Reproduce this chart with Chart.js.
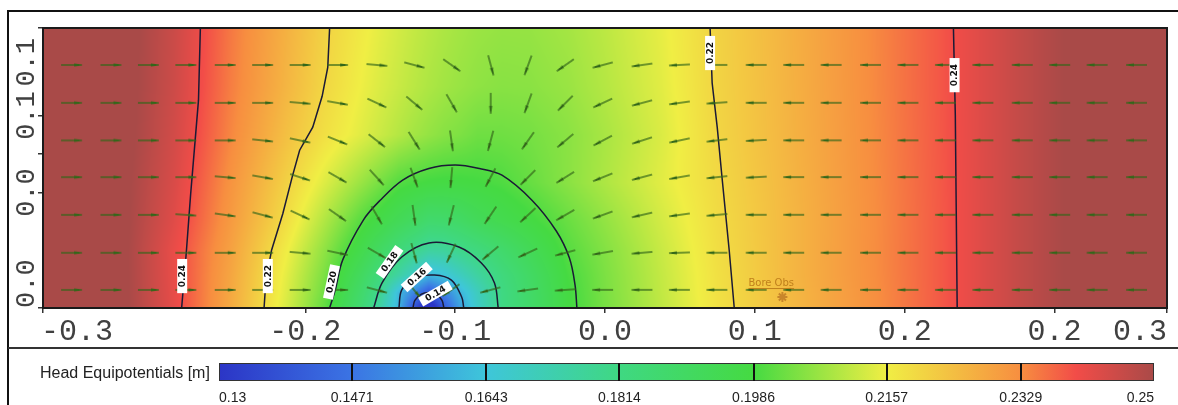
<!DOCTYPE html>
<html>
<head>
<meta charset="utf-8">
<title>Head Equipotentials</title>
<script src="https://cdn.jsdelivr.net/npm/chart.js@4.4.1/dist/chart.umd.min.js"></script>
<style>
  html, body { margin: 0; padding: 0; background: #ffffff; }
  canvas { display: block; }
</style>
</head>
<body>
<canvas id="chart" width="1178" height="405"></canvas>
<script>
// ---------- axes ----------
const xTickValues = [-0.3, -0.16, -0.08, 0, 0.08, 0.16, 0.24, 0.3];
const xTickLabels = ['-0.3', '-0.2', '-0.1', '0.0', '0.1', '0.2', '0.2', '0.3'];
const yTickValues = [0, 0.06, 0.08, 0.1, 0.1455];
const yTickLabels = ['0.0', '0.0', '', '0.1', '0.1'];

// ---------- hydraulic head grid [m] ----------
const gridX = [-0.30, -0.26, -0.23, -0.20, -0.17, -0.15, -0.13, -0.12, -0.11, -0.102, -0.094, -0.086, -0.078,
               -0.068, -0.055, -0.04, -0.02, 0.0, 0.03, 0.06, 0.10, 0.14, 0.18, 0.22, 0.26, 0.30];
const gridY = [0, 0.008, 0.017, 0.03, 0.045, 0.065, 0.09, 0.115, 0.1455];
const head_y000 = [0.260,0.252,0.2417,0.228,0.2131,0.2017,0.1855,0.1748,0.160,0.139,0.120,0.140,0.155,0.168,0.181,0.188,0.198,0.2036,0.2107,0.2179,0.2252,0.2319,0.2387,0.2462,0.2523,0.257];
const head_y008 = [0.260,0.252,0.2415,0.2284,0.2138,0.203,0.1877,0.1783,0.1617,0.1507,0.140,0.150,0.160,0.170,0.1814,0.1886,0.1982,0.2039,0.211,0.2181,0.2254,0.232,0.2387,0.2462,0.2523,0.257];
const head_y017 = [0.260,0.252,0.2413,0.2288,0.2145,0.2042,0.1908,0.1831,0.175,0.1683,0.1608,0.1639,0.169,0.1755,0.1828,0.1896,0.1988,0.2041,0.2112,0.2182,0.2257,0.2322,0.2387,0.2462,0.2523,0.257];
const head_y030 = [0.260,0.252,0.2412,0.2296,0.216,0.2062,0.1957,0.1899,0.184,0.1798,0.176,0.1765,0.1795,0.1826,0.1874,0.193,0.2003,0.2048,0.2117,0.2186,0.2257,0.2323,0.2387,0.2462,0.2523,0.257];
const head_y045 = [0.260,0.252,0.2425,0.2308,0.2186,0.2094,0.2002,0.1965,0.1929,0.1902,0.187,0.1875,0.189,0.1923,0.195,0.1979,0.2021,0.2063,0.2127,0.219,0.2257,0.2322,0.2387,0.2462,0.2523,0.257];
const head_y065 = [0.260,0.252,0.2435,0.232,0.2209,0.2139,0.207,0.2035,0.2001,0.199,0.1983,0.198,0.198,0.1985,0.1996,0.2019,0.2054,0.209,0.2142,0.2195,0.226,0.2324,0.2388,0.2462,0.2523,0.257];
const head_y090 = [0.260,0.2525,0.2445,0.2338,0.224,0.2184,0.2141,0.2119,0.2097,0.208,0.2065,0.2052,0.2043,0.2028,0.2028,0.2035,0.2055,0.2085,0.2135,0.2201,0.2264,0.2326,0.2389,0.2462,0.2523,0.257];
const head_y115 = [0.260,0.2527,0.2452,0.2348,0.2259,0.220,0.2155,0.2135,0.2117,0.2103,0.209,0.2079,0.207,0.206,0.2053,0.2055,0.207,0.2097,0.2142,0.2204,0.2266,0.2328,0.239,0.2462,0.2523,0.257];
const head_y146 = [0.260,0.2528,0.2455,0.2354,0.2267,0.2209,0.2165,0.2145,0.2127,0.2113,0.2101,0.209,0.2081,0.2072,0.2066,0.2067,0.2081,0.2105,0.2148,0.2206,0.2268,0.2329,0.239,0.2462,0.2523,0.257];
const headRows = [head_y000, head_y008, head_y017, head_y030, head_y045, head_y065, head_y090, head_y115, head_y146];

// ---------- equipotential lines [x, y] ----------
const contourLevels = [0.24, 0.22, 0.20, 0.18, 0.16, 0.14, 0.22, 0.24];
const line024West = [[-0.226,0],[-0.2235,0.029],[-0.2212,0.059],[-0.2188,0.087],[-0.217,0.108],[-0.216,0.1455]];
const line022West = [[-0.182,0],[-0.181,0.0145],[-0.178,0.030],[-0.172,0.049],[-0.167,0.068],[-0.163,0.082],[-0.156,0.094],[-0.151,0.110],[-0.148,0.125],[-0.147,0.1455]];
const line020 = [[-0.147,0],[-0.144,0.0094],[-0.140,0.025],[-0.129,0.0457],[-0.120,0.056],[-0.108,0.0665],[-0.094,0.0725],[-0.080,0.0743],[-0.067,0.0725],[-0.055,0.069],[-0.039,0.056],[-0.026,0.040],[-0.019,0.026],[-0.016,0.012],[-0.015,0]];
const line018 = [[-0.1235,0],[-0.119,0.013],[-0.1085,0.0265],[-0.094,0.0338],[-0.078,0.0317],[-0.066,0.0234],[-0.059,0.013],[-0.057,0]];
const line016 = [[-0.110,0],[-0.1085,0.0094],[-0.1016,0.0156],[-0.091,0.0171],[-0.082,0.0145],[-0.0765,0.0057],[-0.0754,0]];
const line014 = [[-0.1025,0],[-0.1015,0.004],[-0.098,0.0072],[-0.094,0.008],[-0.090,0.0072],[-0.087,0.004],[-0.086,0]];
const line022East = [[0.069,0],[0.0663,0.030],[0.0626,0.0665],[0.0599,0.094],[0.0572,0.1169],[0.0561,0.1455]];
const line024East = [[0.188,0],[0.1875,0.05],[0.187,0.10],[0.186,0.1455]];
const contourLines = [line024West, line022West, line020, line018, line016, line014, line022East, line024East];

// contour tags: level, position
const tagLevels = [0.24, 0.22, 0.20, 0.18, 0.16, 0.14, 0.22, 0.24];
const tagX = [-0.2257, -0.180, -0.146, -0.115, -0.1005, -0.0905, 0.0561, 0.1866];
const tagY = [0.0166, 0.0166, 0.0135, 0.024, 0.0161, 0.0075, 0.1325, 0.121];

// ---------- Darcy flux directions (degrees, 0 = +x, counter-clockwise) ----------
const arrowCols = [-0.285,-0.264,-0.244,-0.224,-0.203,-0.183,-0.163,-0.143,-0.122,-0.102,-0.082,-0.061,-0.041,-0.021,
                   -0.001,0.020,0.040,0.060,0.081,0.101,0.121,0.142,0.162,0.182,0.202,0.223,0.243,0.263,0.284];
const arrowRows = [0.0094, 0.0287, 0.0484, 0.0680, 0.0871, 0.1066, 0.1263];
const flowDir_r0 = [0,0,0,0,0,0,0,0,-15,-50,-145,-165,-172,-176,180,180,180,180,180,180,180,180,180,180,180,180,180,180,180];
const flowDir_r1 = [0,0,0,0,0,0,-5,-12,-30,-75,-115,-140,-155,-165,-170,-175,-178,180,180,180,180,180,180,180,180,180,180,180,180];
const flowDir_r2 = [0,0,0,-4,-8,-15,-25,-35,-60,-82,-104,-124,-137,-150,-160,-167,-172,-175,180,180,180,180,180,180,180,180,180,180,180];
const flowDir_r3 = [0,0,0,0,-5,-10,-18,-30,-48,-70,-95,-118,-135,-148,-158,-165,-170,-174,-177,180,180,180,180,180,180,180,180,180,180];
const flowDir_r4 = [0,0,0,0,0,-6,-12,-22,-38,-58,-82,-105,-125,-140,-152,-162,-168,-173,-177,180,180,180,180,180,180,180,180,180,180];
const flowDir_r5 = [0,0,0,0,0,0,-5,-10,-25,-40,-60,-90,-110,-135,-155,-165,-172,-176,180,180,180,180,180,180,180,180,180,180,180];
const flowDir_r6 = [0,0,0,0,0,0,0,0,-5,-15,-35,-75,-110,-145,-165,-172,-177,180,180,180,180,180,180,180,180,180,180,180,180];
const flowDirRows = [flowDir_r0, flowDir_r1, flowDir_r2, flowDir_r3, flowDir_r4, flowDir_r5, flowDir_r6];

// observation point
const obsName = ['Bore Obs'];
const obsX = [0.0947];
const obsY = [0.0057];

// ---------- legend ----------
const legendTitle = 'Head Equipotentials [m]';
const legendValues = [0.13, 0.1471, 0.1643, 0.1814, 0.1986, 0.2157, 0.2329, 0.25];
const legendLabels = ['0.13', '0.1471', '0.1643', '0.1814', '0.1986', '0.2157', '0.2329', '0.25'];

// ---------- palette ----------
const paletteValues = [0.13, 0.1471, 0.1643, 0.1814, 0.1986, 0.2157, 0.2329, 0.24, 0.25];
const paletteColors = ['#2b35c6', '#3b74e4', '#3ec6da', '#3fd882', '#45da42', '#f0ee44', '#f78e40', '#f24c48', '#a94a48'];

// ======================================================================
function hexRgb(h) { return [parseInt(h.slice(1, 3), 16), parseInt(h.slice(3, 5), 16), parseInt(h.slice(5, 7), 16)]; }
const paletteRgb = paletteColors.map(hexRgb);
function colourFor(v) {
  const n = paletteValues.length;
  if (v <= paletteValues[0]) return paletteRgb[0];
  if (v >= paletteValues[n - 1]) return paletteRgb[n - 1];
  let i = 0;
  while (v > paletteValues[i + 1]) i++;
  const t = (v - paletteValues[i]) / (paletteValues[i + 1] - paletteValues[i]);
  const a = paletteRgb[i], b = paletteRgb[i + 1];
  return [a[0] + (b[0] - a[0]) * t, a[1] + (b[1] - a[1]) * t, a[2] + (b[2] - a[2]) * t];
}
function bracket(arr, v) {
  let i = 0;
  while (i < arr.length - 2 && v > arr[i + 1]) i++;
  const t = Math.min(1, Math.max(0, (v - arr[i]) / (arr[i + 1] - arr[i])));
  return [i, t];
}

// filled head field, drawn under the datasets
const headField = {
  id: 'headField',
  beforeDatasetsDraw(chart) {
    const { ctx, chartArea: a, scales: { x, y } } = chart;
    const w = Math.round(a.right - a.left), h = Math.round(a.bottom - a.top);
    const off = document.createElement('canvas');
    off.width = w; off.height = h;
    const octx = off.getContext('2d');
    const img = octx.createImageData(w, h);
    const cols = [];
    for (let px = 0; px < w; px++) cols.push(bracket(gridX, x.getValueForPixel(a.left + px + 0.5)));
    for (let py = 0; py < h; py++) {
      const [j, ty] = bracket(gridY, y.getValueForPixel(a.top + py + 0.5));
      const r0 = headRows[j], r1 = headRows[j + 1];
      for (let px = 0; px < w; px++) {
        const [i, tx] = cols[px];
        const v = (r0[i] * (1 - tx) + r0[i + 1] * tx) * (1 - ty) + (r1[i] * (1 - tx) + r1[i + 1] * tx) * ty;
        const c = colourFor(v);
        const o = (py * w + px) * 4;
        img.data[o] = c[0]; img.data[o + 1] = c[1]; img.data[o + 2] = c[2]; img.data[o + 3] = 255;
      }
    }
    octx.putImageData(img, 0, 0);
    ctx.drawImage(off, a.left, a.top);
  }
};

// tags, frame, axis labels and colour legend
const overlay = {
  id: 'overlay',
  afterDatasetsDraw(chart) {
    const { ctx, chartArea: a, scales: { x, y } } = chart;
    // contour tags
    ctx.save();
    ctx.beginPath(); ctx.rect(a.left, a.top, a.right - a.left, a.bottom - a.top); ctx.clip();
    const tagAngles = [-90, -90, -78, -55, -42, -30, -90, -90];
    tagLevels.forEach((lv, k) => {
      const px = x.getPixelForValue(tagX[k]), py = y.getPixelForValue(tagY[k]);
      const txt = lv.toFixed(2);
      ctx.save();
      ctx.translate(px, py);
      ctx.rotate(tagAngles[k] * Math.PI / 180);
      ctx.font = 'bold 9px "DejaVu Sans"';
      const tw = ctx.measureText(txt).width;
      ctx.fillStyle = '#ffffff';
      ctx.fillRect(-tw / 2 - 6, -5, tw + 12, 10);
      ctx.fillStyle = '#101010';
      ctx.textAlign = 'center'; ctx.textBaseline = 'middle';
      ctx.fillText(txt, 0, 0.5);
      ctx.restore();
    });
    // observation point label
    obsName.forEach((nm, k) => {
      const px = x.getPixelForValue(obsX[k]), py = y.getPixelForValue(obsY[k]);
      ctx.font = '10px "DejaVu Sans"';
      ctx.fillStyle = '#c0801c';
      ctx.textAlign = 'left'; ctx.textBaseline = 'alphabetic';
      const tw = ctx.measureText(nm).width;
      ctx.fillText(nm, px - 34, py - 11);
      ctx.fillRect(px - 34, py - 9, tw, 1);
    });
    ctx.restore();
    // plot frame
    ctx.save();
    ctx.strokeStyle = '#1a1a1a'; ctx.lineWidth = 2;
    ctx.strokeRect(a.left, a.top, a.right - a.left, a.bottom - a.top);
    ctx.restore();
  },
  afterDraw(chart) {
    const { ctx, chartArea: a, scales: { x, y } } = chart;
    ctx.save();
    // outer frame
    ctx.fillStyle = '#111111';
    ctx.fillRect(7, 10, 1171, 2);
    ctx.fillRect(7, 10, 2, 395);
    ctx.fillStyle = '#333333';
    ctx.fillRect(8, 347, 1170, 2);

    // x tick labels
    ctx.font = '30px "Liberation Mono"';
    ctx.fillStyle = '#404040';
    ctx.textBaseline = 'alphabetic';
    xTickValues.forEach((v, k) => {
      const px = x.getPixelForValue(v);
      ctx.textAlign = k === 0 ? 'left' : (k === xTickValues.length - 1 ? 'right' : 'center');
      ctx.fillText(xTickLabels[k], k === 0 ? px - 2 : px, a.bottom + 32);
    });
    // y tick labels (rotated)
    ctx.font = '27px "Liberation Mono"';
    yTickValues.forEach((v, k) => {
      if (!yTickLabels[k]) return;
      const py = y.getPixelForValue(v);
      ctx.save();
      ctx.translate(34, py);
      ctx.rotate(-Math.PI / 2);
      ctx.textAlign = k === 0 ? 'left' : (k === yTickValues.length - 1 ? 'right' : 'center');
      ctx.fillText(yTickLabels[k], k === yTickValues.length - 1 ? -10 : 0, 0);
      ctx.restore();
    });

    // colour legend
    const bx = 219, by = 363, bw = 935, bh = 18;
    const vmin = legendValues[0], vmax = legendValues[legendValues.length - 1];
    const grad = ctx.createLinearGradient(bx, 0, bx + bw, 0);
    paletteValues.forEach((v, k) => {
      grad.addColorStop(Math.min(1, Math.max(0, (v - vmin) / (vmax - vmin))), paletteColors[k]);
    });
    ctx.fillStyle = grad;
    ctx.fillRect(bx, by, bw, bh);
    ctx.strokeStyle = '#333333'; ctx.lineWidth = 1;
    ctx.strokeRect(bx + 0.5, by + 0.5, bw - 1, bh - 1);
    ctx.fillStyle = '#111111';
    legendValues.forEach((v, k) => {
      if (k === 0 || k === legendValues.length - 1) return;
      const px = bx + (v - vmin) / (vmax - vmin) * bw;
      ctx.fillRect(Math.round(px) - 1, by, 2, bh);
    });
    ctx.font = '16px "Liberation Sans"';
    ctx.fillStyle = '#222222';
    ctx.textAlign = 'left';
    ctx.fillText(legendTitle, 40, 378);
    ctx.font = '14px "Liberation Sans"';
    legendValues.forEach((v, k) => {
      const px = bx + (v - vmin) / (vmax - vmin) * bw;
      ctx.textAlign = k === 0 ? 'left' : (k === legendValues.length - 1 ? 'right' : 'center');
      ctx.fillText(legendLabels[k], px, 402);
    });
    ctx.restore();
  }
};

// flux arrow glyph
const arrowColour = '#33671a';
function makeArrow() {
  const c = document.createElement('canvas');
  c.width = 24; c.height = 8;
  const g = c.getContext('2d');
  g.strokeStyle = arrowColour; g.lineWidth = 1.3;
  g.beginPath(); g.moveTo(2, 4); g.lineTo(20, 4); g.stroke();
  g.fillStyle = arrowColour;
  g.beginPath(); g.moveTo(15, 2.5); g.lineTo(23, 3.6); g.lineTo(23, 4.4); g.lineTo(15, 5.5); g.closePath(); g.fill();
  return c;
}
const arrowGlyph = makeArrow();

const arrowPoints = [];
arrowRows.forEach((yv, r) => arrowCols.forEach((xv, k) => arrowPoints.push({ x: xv, y: yv, a: flowDirRows[r][k] })));

const datasets = [];
contourLines.forEach((pts, k) => {
  datasets.push({
    label: 'h = ' + contourLevels[k].toFixed(2),
    data: pts.map(p => ({ x: p[0], y: p[1] })),
    showLine: true,
    borderColor: '#1b1a36',
    borderWidth: 1.5,
    pointRadius: 0,
    tension: (k >= 2 && k <= 5) ? 0.35 : 0,
    order: 2
  });
});
datasets.push({
  label: 'flux',
  data: arrowPoints,
  showLine: false,
  pointStyle: arrowGlyph,
  pointRadius: 4,
  pointRotation: c => -c.raw.a,
  order: 1
});
datasets.push({
  label: 'observation',
  data: obsX.map((v, k) => ({ x: v, y: obsY[k] })),
  showLine: false,
  pointStyle: 'star',
  pointRadius: 5,
  borderColor: '#c8862a',
  backgroundColor: '#c8862a',
  borderWidth: 2,
  order: 0
});

new Chart(document.getElementById('chart'), {
  type: 'scatter',
  data: { datasets },
  options: {
    responsive: false,
    devicePixelRatio: 1,
    animation: false,
    events: [],
    layout: { padding: { left: 8, top: 28, right: 11, bottom: 57 } },
    plugins: { legend: { display: false }, tooltip: { enabled: false } },
    scales: {
      x: {
        type: 'linear', min: -0.3, max: 0.3,
        afterBuildTicks: s => { s.ticks = xTickValues.map(v => ({ value: v })); },
        afterFit: s => { s.height = 40; },
        ticks: { display: false },
        grid: { drawOnChartArea: false, drawTicks: true, tickLength: 5, color: '#333333', lineWidth: 1.5 },
        border: { display: true, color: '#1a1a1a', width: 2 }
      },
      y: {
        type: 'linear', min: 0, max: 0.1455,
        afterBuildTicks: s => { s.ticks = yTickValues.map(v => ({ value: v })); },
        afterFit: s => { s.width = 35; },
        ticks: { display: false },
        grid: { drawOnChartArea: false, drawTicks: true, tickLength: 5, color: '#333333', lineWidth: 1.5 },
        border: { display: true, color: '#1a1a1a', width: 2 }
      }
    }
  },
  plugins: [headField, overlay]
});
</script>
</body>
</html>
